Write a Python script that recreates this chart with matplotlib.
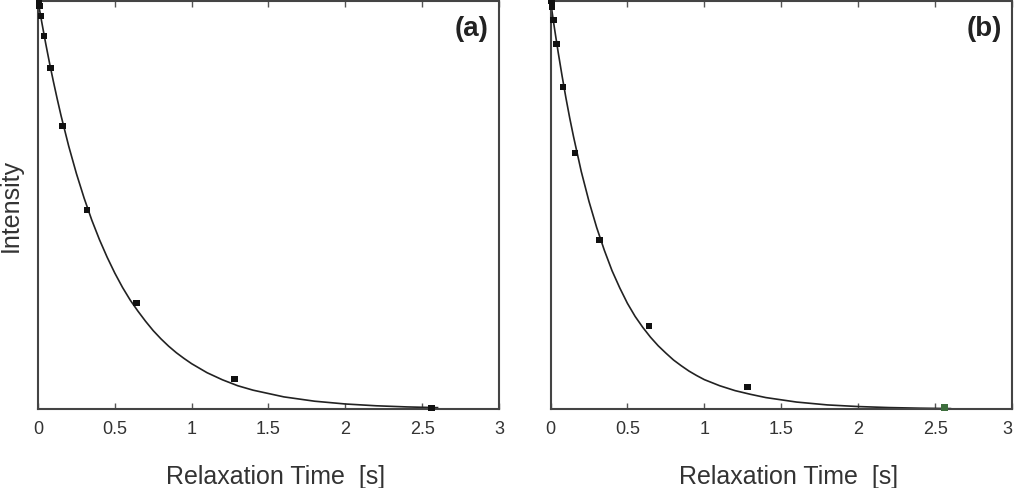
import numpy as np
import matplotlib
matplotlib.use('Agg')
import matplotlib.pyplot as plt

plt.rcParams['font.family'] = ['Liberation Sans', 'DejaVu Sans']

# measured relaxation points (normalised intensity)
t_pts = [0.005, 0.01, 0.02, 0.04, 0.08, 0.16, 0.32, 0.64, 1.28, 2.56]
a_pts = [1.0, 0.988, 0.963, 0.914, 0.836, 0.694, 0.488, 0.260, 0.074, 0.002]
b_pts = [1.0, 0.985, 0.953, 0.895, 0.789, 0.627, 0.414, 0.203, 0.054, 0.004]

# fitted curves
t_fit = [0, 0.025, 0.05, 0.075, 0.1, 0.125, 0.15, 0.2, 0.25, 0.3, 0.35,
         0.4, 0.45, 0.5, 0.55, 0.6, 0.65, 0.7, 0.75, 0.8, 0.85, 0.9, 0.95,
         1.0, 1.1, 1.2, 1.3, 1.4, 1.6, 1.8, 2.0, 2.2, 2.4, 2.6]
a_fit = [1.0, 0.947, 0.896, 0.848, 0.803, 0.760, 0.719, 0.644, 0.577, 0.517,
         0.463, 0.415, 0.372, 0.333, 0.298, 0.267, 0.240, 0.215, 0.192, 0.172,
         0.154, 0.138, 0.124, 0.111, 0.089, 0.0716, 0.057, 0.0461, 0.0297,
         0.0191, 0.0123, 0.0079, 0.0051, 0.0033]
b_fit = [1.0, 0.935, 0.874, 0.817, 0.763, 0.713, 0.667, 0.582, 0.509, 0.445,
         0.389, 0.339, 0.297, 0.259, 0.227, 0.200, 0.176, 0.155, 0.137, 0.120,
         0.106, 0.093, 0.082, 0.072, 0.057, 0.045, 0.036, 0.028, 0.017, 0.010,
         0.006, 0.0035, 0.002, 0.001]

xticks = [0, 0.5, 1, 1.5, 2, 2.5, 3]
xticklabels = ['0', '0.5', '1', '1.5', '2', '2.5', '3']

fig = plt.figure(figsize=(10.14, 4.89), dpi=100)
ax_a = fig.add_axes([38/1014, 1-410/489, 461/1014, 408/489])
ax_b = fig.add_axes([550.5/1014, 1-410/489, 461.5/1014, 408/489])

panels = [(ax_a, a_pts, a_fit, '(a)'), (ax_b, b_pts, b_fit, '(b)')]
for ax, pts, fit, tag in panels:
    ax.plot(t_fit, fit, color='#222222', lw=1.2, zorder=2)
    colors = ['#111111'] * len(t_pts)
    if tag == '(b)':
        colors[-1] = '#3d6e3d'
    ax.scatter(t_pts, pts, marker='s', s=22, c=colors, zorder=3,
               clip_on=False, linewidths=0)
    ax.set_xlim(0, 3)
    ax.set_ylim(0, 1.0)
    ax.set_xticks(xticks)
    ax.set_xticklabels(xticklabels)
    ax.set_yticks([])
    ax.tick_params(axis='x', direction='in', top=True, length=4, width=1,
                   color='#555555', labelsize=13, labelcolor='#333333', pad=8)
    for sp in ax.spines.values():
        sp.set_color('#444444')
        sp.set_linewidth(1.5)
    ax.set_xlabel('Relaxation Time  [s]', fontsize=18, color='#333333')
    ax.xaxis.set_label_coords(0.515, -0.135)
    ax.text(0.94, 0.935, tag, transform=ax.transAxes, fontsize=20,
            fontweight='bold', ha='center', va='center', color='#222222')

# keep the last label of panel (b) inside the figure
ax_b.get_xticklabels()[-1].set_horizontalalignment('right')

ax_a.set_ylabel('Intensity', fontsize=18, color='#333333')
ax_a.yaxis.set_label_coords(-0.033, 0.5)

fig.savefig('out.png', dpi=100)
